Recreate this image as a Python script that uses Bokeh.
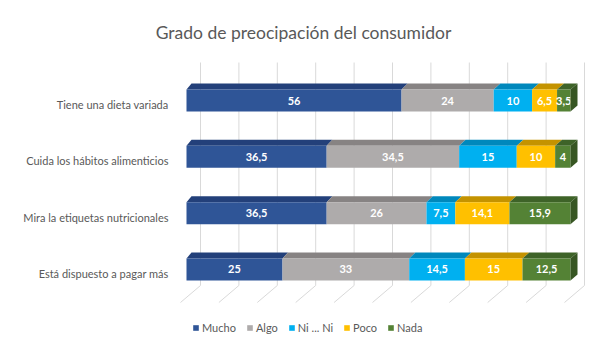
from bokeh.plotting import figure
from bokeh.models import Range1d, Legend, LegendItem
from bokeh.core.properties import value
from bokeh.embed import file_html
from bokeh.resources import INLINE

# ---------------- data ----------------
title_text = "Grado de preocipación del consumidor"
categories = [
    "Tiene una dieta variada",
    "Cuida los hábitos alimenticios",
    "Mira la etiquetas nutricionales",
    "Está dispuesto a pagar más",
]
series_names = ["Mucho", "Algo", "Ni ... Ni", "Poco", "Nada"]
mucho = [56, 36.5, 36.5, 25]
algo = [24, 34.5, 26, 33]
nini = [10, 15, 7.5, 14.5]
poco = [6.5, 10, 14.1, 15]
nada = [3.5, 4, 15.9, 12.5]
series_values = [mucho, algo, nini, poco, nada]
grid_ticks = list(range(0, 101, 10))

# ---------------- style ----------------
front_colors = ["#2F5597", "#AEABAB", "#00B0F0", "#FFC000", "#548235"]
top_colors = ["#23407A", "#878383", "#0088BC", "#C49300", "#3E6328"]
side_color = "#375623"
text_color = "#595959"
grid_color = "#D9D9D9"
FONT = "Lato"

W, H = 606, 352
TOP = 50                     # top border holding the title
PX_X = 3.84                  # px per value unit
X0_PX = 186                  # px of value 0 (front)
PX_Y = 56.33                 # px per category step
LABEL0_PX = 104              # px of first category label centre

x_start = -X0_PX / PX_X
x_end = (W - X0_PX) / PX_X
y_top = -(LABEL0_PX - TOP) / PX_Y
y_bot = (H - LABEL0_PX) / PX_Y

def ux(px):
    return px / PX_X

def uy(px):
    return px / PX_Y

bar_shift = uy(-4)          # bar centre relative to label
half_h = uy(11)
depth = uy(6)

def dx(v):
    return ux(5 + 2 * v / 100.0)

p = figure(width=W, height=H, x_range=Range1d(x_start, x_end),
           y_range=Range1d(y_bot, y_top), x_axis_type=None, y_axis_type=None,
           output_backend="svg", toolbar_location=None, min_border=0,
           min_border_top=TOP, outline_line_color=None)
p.grid.visible = False
p.background_fill_color = "white"
p.border_fill_color = "white"

p.title.text = title_text
p.title.align = "center"
p.title.text_font = FONT
p.title.text_font_style = "normal"
p.title.text_font_size = "17.5px"
p.title.text_color = text_color
p.title.standoff = 16

# ---------------- gridlines (back wall + floor) ----------------
n = len(categories)
g_top = 0 + bar_shift - half_h - uy(27)
g_bottom = (n - 1) + bar_shift + half_h + uy(5)
g_floor = g_bottom + uy(17)
back = ux(14)
gx, gy = [], []
for t in grid_ticks:
    gx.append([t + back, t + back, t + back - ux(20)])
    gy.append([g_top, g_bottom, g_floor])
p.multi_line(gx, gy, line_color=grid_color, line_width=1)

# ---------------- bars ----------------
items = []
for k, (name, vals) in enumerate(zip(series_names, series_values)):
    lefts, rights, bots, tops = [], [], [], []
    tys, xs_top, ys_top, labels, lxs = [], [], [], [], []
    for i, v in enumerate(vals):
        left = sum(series_values[j][i] for j in range(k))
        right = left + v
        yc = i + bar_shift
        yf = yc - half_h
        lefts.append(left); rights.append(right)
        bots.append(yc + half_h); tops.append(yf)
        xs_top.append([left, right, right + dx(right), left + dx(left)])
        ys_top.append([yf, yf, yf - depth, yf - depth])
        labels.append(("%g" % v).replace(".", ","))
        lxs.append((left + right) / 2.0)
        tys.append(yc)
    p.patches(xs_top, ys_top, fill_color=top_colors[k], line_color=None)
    r = p.quad(left=lefts, right=rights, bottom=bots, top=tops,
               fill_color=front_colors[k], line_color=None)
    items.append(LegendItem(label=name, renderers=[r]))
    p.text(x=lxs, y=tys, text=labels, text_color="white",
           text_font=value(FONT), text_font_style="bold",
           text_font_size="11px", text_align="center", text_baseline="middle")
    if k == len(series_names) - 1:
        sx, sy = [], []
        for i in range(n):
            tot = sum(series_values[j][i] for j in range(len(series_names)))
            yc = i + bar_shift
            yf, yb = yc - half_h, yc + half_h
            sx.append([tot, tot, tot + dx(tot), tot + dx(tot)])
            sy.append([yf, yb, yb - depth, yf - depth])
        p.patches(sx, sy, fill_color=side_color, line_color=None)

# ---------------- category labels ----------------
p.text(x=[ux(168 - X0_PX)] * n, y=list(range(n)), text=categories,
       text_color=text_color, text_font=value(FONT), text_font_size="11px",
       text_align="right", text_baseline="middle")

# ---------------- legend ----------------
legend = Legend(items=items, orientation="horizontal", location=(192, 18),
                glyph_width=7, glyph_height=7, label_standoff=3, spacing=10,
                padding=0, margin=0, border_line_color=None,
                background_fill_alpha=0, label_text_font=FONT,
                label_text_font_size="11px", label_text_color=text_color,
                label_height=12)
p.add_layout(legend, "center")

open("out.html", "w").write(file_html(p, INLINE))
